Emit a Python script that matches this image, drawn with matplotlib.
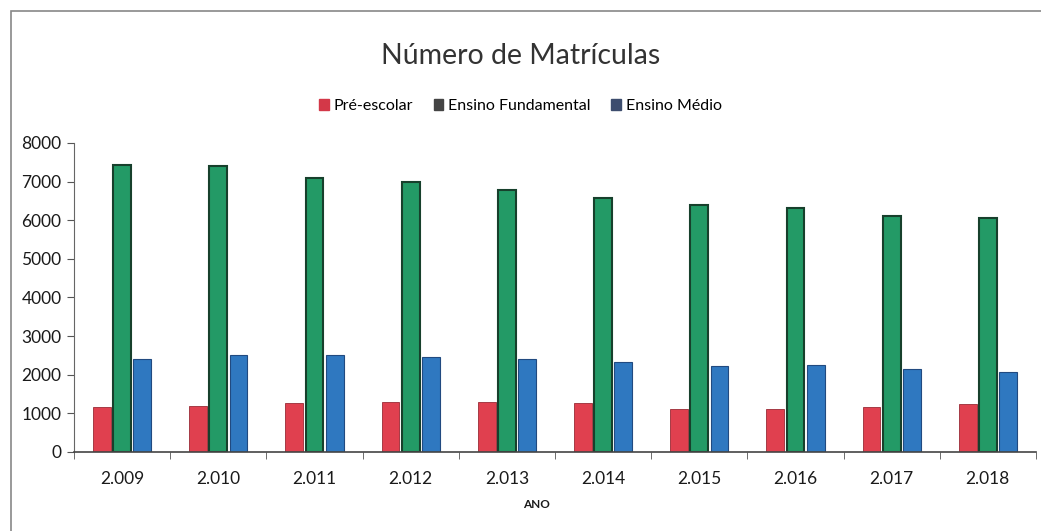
import numpy as np
import matplotlib.pyplot as plt
from matplotlib.patches import Rectangle

anos = ['2.009', '2.010', '2.011', '2.012', '2.013', '2.014', '2.015', '2.016', '2.017', '2.018']
pre_escolar = [1165, 1190, 1260, 1300, 1300, 1260, 1120, 1115, 1175, 1250]
fundamental = [7435, 7400, 7090, 6985, 6790, 6565, 6400, 6310, 6115, 6070]
medio = [2415, 2520, 2510, 2470, 2410, 2325, 2230, 2250, 2140, 2080]

plt.rcParams['font.family'] = ['Lato', 'DejaVu Sans']

fig = plt.figure(figsize=(10.41, 5.31), dpi=100)
ax = fig.add_axes([0.0711, 0.1488, 0.9240, 0.5819])

x = np.arange(len(anos))
w = 0.185
ax.bar(x - 0.21, pre_escolar, w, color='#e0404f', edgecolor='#9a2a35', linewidth=0.6)
ax.bar(x, fundamental, w, color='#239a66', edgecolor='#17402c', linewidth=1.5)
ax.bar(x + 0.21, medio, w, color='#2f78c0', edgecolor='#214a80', linewidth=0.8)

ax.set_xlim(-0.5, len(anos) - 0.5)
ax.set_ylim(0, 8000)
ax.set_yticks(range(0, 8001, 1000))
ax.set_xticks(x)
ax.set_xticklabels(anos, fontsize=12.5)
ax.set_xticks(np.arange(-0.5, len(anos)), minor=True)
ax.tick_params(axis='x', which='major', length=0, pad=14, colors='#1a1a1a')
ax.tick_params(axis='x', which='minor', length=5, color='#555')
ax.tick_params(axis='y', length=5, color='#555', labelsize=12.5, colors='#1a1a1a', pad=4)
for s in ['top', 'right']:
    ax.spines[s].set_visible(False)
ax.spines['left'].set_color('#666')
ax.spines['bottom'].set_color('#444')
ax.spines['bottom'].set_linewidth(1.2)

fig.text(0.5, 0.895, 'Número de Matrículas', ha='center', va='center', fontsize=20.5,
         color='#333')
fig.text(0.515, 0.05, 'ANO', ha='center', va='center', fontsize=8.5, fontweight='bold', color='#1a1a1a')

# legenda
handles = [Rectangle((0, 0), 1, 1, color=c) for c in ['#d33848', '#444444', '#3d4d6e']]
fig.legend(handles, ['Pré-escolar', 'Ensino Fundamental', 'Ensino Médio'],
           loc='center', bbox_to_anchor=(0.5, 0.8), ncol=3, frameon=False,
           fontsize=11.5, handlelength=0.6, handleheight=0.6, handletextpad=0.3,
           columnspacing=1.3)

fig.patches.append(Rectangle((11 / 1041, -0.1), 1.2, 1 - 11 / 531 + 0.1,
                             transform=fig.transFigure, fill=False,
                             edgecolor='#888', linewidth=1.2))

fig.savefig('out.png', dpi=100)
